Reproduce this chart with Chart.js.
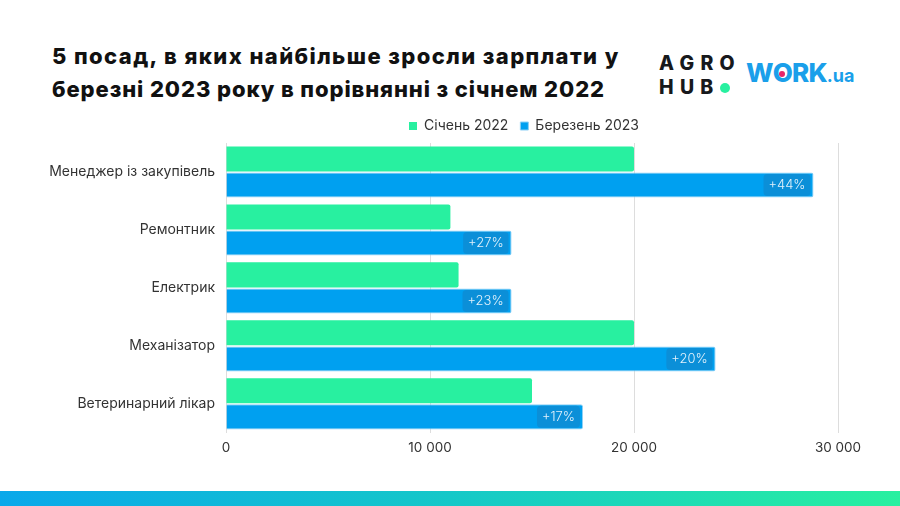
<!DOCTYPE html>
<html>
<head>
<meta charset="utf-8">
<script src="https://cdn.jsdelivr.net/npm/chart.js@4/dist/chart.umd.min.js"></script>
<style>
  html, body { margin: 0; padding: 0; background: #fff; }
  body { width: 900px; height: 506px; position: relative; overflow: hidden; font-family: "Inter", "Noto Sans", sans-serif; }
  #title { position: absolute; left: 52px; top: 40px; font-size: 22px; font-weight: 800; line-height: 33px; color: #111; letter-spacing: 1.2px; white-space: nowrap; }
  #t1 { letter-spacing: 1.4px; }
  #t2 { letter-spacing: 0.9px; }
  #agro { position: absolute; left: 659px; top: 51px; font-size: 19.5px; font-weight: 800; letter-spacing: 6.3px; line-height: 24px; color: #17191c; }
  #agro .dot { display: inline-block; width: 10px; height: 10px; border-radius: 50%; background: #28f0a0; vertical-align: 1px; }
  #work { position: absolute; left: 746px; top: 57px; font-size: 26px; font-weight: 800; color: #1a9fea; letter-spacing: -0.8px; }
  #work .o { position: relative; display: inline-block; }
  #work .o::after { content: ""; position: absolute; left: 50%; top: 50%; width: 6px; height: 6px; margin-left: -3px; margin-top: -2px; border-radius: 50%; background: #e8256a; }
  #work .ua { font-size: 18px; font-weight: 700; letter-spacing: 0; }
  #bar { position: absolute; left: 0; top: 491px; width: 900px; height: 15px; background: linear-gradient(90deg, #0aa8ea 0%, #15c8c8 50%, #28f0a0 100%); }
  #wrap { position: absolute; left: 0; top: 107px; width: 900px; height: 360px; }
</style>
</head>
<body>
<div id="title"><span id="t1">5 посад, в яких найбільше зросли зарплати у</span><br><span id="t2">березні 2023 року в порівнянні з січнем 2022</span></div>
<div id="agro">AGRO<br>HUB<span class="dot"></span></div>
<div id="work">W<span class="o">O</span>RK<span class="ua">.ua</span></div>
<div id="wrap"><canvas id="c" width="900" height="360"></canvas></div>
<div id="bar"></div>
<script>
const categories = ["Менеджер із закупівель", "Ремонтник", "Електрик", "Механізатор", "Ветеринарний лікар"];
const seriesNames = ["Січень 2022", "Березень 2023"];
const jan2022 = [20000, 11000, 11400, 20000, 15000];
const mar2023 = [28800, 14000, 14000, 24000, 17500];
const growthLabels = ["+44%", "+27%", "+23%", "+20%", "+17%"];
const xTicks = [0, 10000, 20000, 30000];

const FONT = "Inter, 'Noto Sans', sans-serif";
const fmt = v => String(v).replace(/\B(?=(\d{3})+(?!\d))/g, " ");

const growthPlugin = {
  id: "growth",
  afterLayout(chart) {
    const lg = chart.legend;
    if (lg) { lg.left -= 8; lg.right -= 8; }
  },
  afterDatasetsDraw(chart) {
    const meta = chart.getDatasetMeta(1);
    const ctx = chart.ctx;
    ctx.save();
    ctx.font = "300 13px " + FONT;
    meta.data.forEach((el, i) => {
      const txt = growthLabels[i];
      const tw = ctx.measureText(txt).width;
      const w = tw + 10, h = 22;
      const right = el.x - 3;
      const left = right - w;
      const top = el.y - h / 2;
      ctx.fillStyle = "#0b8fd8";
      ctx.beginPath();
      ctx.roundRect(left, top, w, h, 4);
      ctx.fill();
      ctx.fillStyle = "#e3f2fc";
      ctx.textAlign = "center";
      ctx.textBaseline = "middle";
      ctx.fillText(txt, left + w / 2, el.y + 0.5);
    });
    ctx.restore();
  }
};

new Chart(document.getElementById("c"), {
  type: "bar",
  data: {
    labels: categories,
    datasets: [
      { label: seriesNames[0], data: jan2022, backgroundColor: "#28f0a0", borderWidth: 0, borderRadius: 2, borderSkipped: "start",
        categoryPercentage: 0.9, barPercentage: 0.96 },
      { label: seriesNames[1], data: mar2023, backgroundColor: "#00a0f0", borderColor: "#8dd0f5", borderWidth: 1, borderRadius: 2, borderSkipped: "start",
        categoryPercentage: 0.9, barPercentage: 0.96 }
    ]
  },
  options: {
    indexAxis: "y",
    responsive: false,
    animation: false,
    layout: { padding: { left: 0, right: 62, top: 0, bottom: 4 } },
    plugins: {
      legend: {
        fullSize: false,
        labels: { boxWidth: 8, boxHeight: 8, color: "#333", font: { family: FONT, size: 14 }, padding: 12 }
      },
      tooltip: { enabled: false }
    },
    scales: {
      x: {
        min: 0, max: 30000,
        afterBuildTicks: s => { s.ticks = xTicks.map(v => ({ value: v })); },
        grid: { color: "#dddddd", drawTicks: false },
        border: { display: false },
        ticks: { color: "#333", padding: 7, font: { family: FONT, size: 13.5 }, callback: v => fmt(v) }
      },
      y: {
        afterFit: s => { s.width = 226; },
        grid: { display: false },
        border: { display: false },
        ticks: { color: "#333", padding: 3, font: { family: FONT, size: 14 } }
      }
    }
  },
  plugins: [growthPlugin]
});
</script>
</body>
</html>
